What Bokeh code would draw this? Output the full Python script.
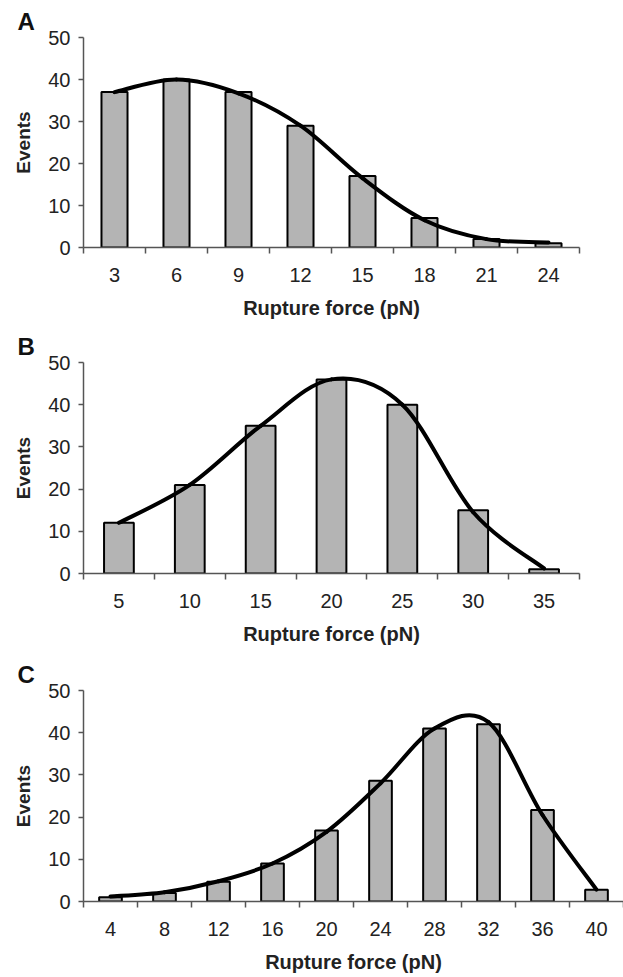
from bokeh.plotting import figure
from bokeh.layouts import column
from bokeh.models import Range1d, FixedTicker
from bokeh.embed import file_html
from bokeh.resources import INLINE

# ---- data ----
a_forces = ["3", "6", "9", "12", "15", "18", "21", "24"]
a_events = [37, 40, 37, 29, 17, 7, 2, 1]
a_fit = [37, 40, 36.7, 29, 16.5, 6.5, 2, 1.2]

b_forces = ["5", "10", "15", "20", "25", "30", "35"]
b_events = [12, 21, 35, 46, 40, 15, 1]
b_fit = [12, 21, 35, 46, 40, 14.5, 1.2]

c_forces = ["4", "8", "12", "16", "20", "24", "28", "32", "36", "40"]
c_events = [1, 2, 4.7, 9, 16.8, 28.6, 41, 42, 21.7, 2.8]
c_fit = [1.2, 2.2, 4.8, 9, 16.5, 28, 41, 42.5, 20.5, 2.8]

y_ticks = [0, 10, 20, 30, 40, 50]

FONT = "Liberation Sans"
TEXT = "#222222"
AXIS = "#555555"


def panel(letter, forces, events, fit, frame_w, frame_h, b_top, b_bottom, b_right):
    n = len(forces)
    p = figure(frame_width=frame_w, frame_height=frame_h,
               min_border_left=83, min_border_right=b_right,
               min_border_top=b_top, min_border_bottom=b_bottom,
               x_range=Range1d(-0.5, n - 0.5), y_range=Range1d(0, 50),
               output_backend="svg", toolbar_location=None,
               background_fill_color="white", border_fill_color="white")
    p.outline_line_color = None
    p.grid.visible = False

    # panel letter as a left-aligned title pushed into the left border
    p.title.text = letter
    p.title.align = "left"
    p.title.offset = -66
    p.title.standoff = 6
    p.title.text_font = FONT
    p.title.text_font_size = "24px"
    p.title.text_font_style = "bold"
    p.title.text_color = "#111111"

    xs = list(range(n))
    p.vbar(x=xs, top=events, bottom=0, width=0.42,
           fill_color="#b4b4b4", line_color="black", line_width=2)

    # smoothed line through the fit knots (Bezier segments, Excel-style)
    x0, y0, x1, y1, cx0, cy0, cx1, cy1 = [], [], [], [], [], [], [], []
    for i in range(n - 1):
        xm1, ym1 = (i - 1, fit[i - 1]) if i > 0 else (i, fit[i])
        xp2, yp2 = (i + 2, fit[i + 2]) if i + 2 < n else (i + 1, fit[i + 1])
        x0.append(i); y0.append(fit[i])
        x1.append(i + 1); y1.append(fit[i + 1])
        cx0.append(i + (i + 1 - xm1) / 6.0); cy0.append(fit[i] + (fit[i + 1] - ym1) / 6.0)
        cx1.append(i + 1 - (xp2 - i) / 6.0); cy1.append(fit[i + 1] - (yp2 - fit[i]) / 6.0)
    p.bezier(x0=x0, y0=y0, x1=x1, y1=y1, cx0=cx0, cy0=cy0, cx1=cx1, cy1=cy1,
             line_color="black", line_width=4, line_cap="round")

    # x axis
    xa = p.xaxis[0]
    xa.ticker = FixedTicker(ticks=xs, minor_ticks=[i - 0.5 for i in range(n + 1)])
    xa.major_label_overrides = {i: f for i, f in enumerate(forces)}
    xa.major_tick_line_color = None
    xa.major_tick_out = 0
    xa.major_tick_in = 0
    xa.minor_tick_in = 0
    xa.minor_tick_out = 6
    xa.minor_tick_line_color = AXIS
    xa.minor_tick_line_width = 1.5
    xa.axis_line_color = AXIS
    xa.axis_line_width = 1.5
    xa.major_label_text_font = FONT
    xa.major_label_text_font_size = "20px"
    xa.major_label_text_color = TEXT
    xa.major_label_standoff = 14
    xa.axis_label = "Rupture force (pN)"
    xa.axis_label_text_font = FONT
    xa.axis_label_text_font_size = "20px"
    xa.axis_label_text_font_style = "bold"
    xa.axis_label_text_color = TEXT
    xa.axis_label_standoff = 12

    # y axis
    ya = p.yaxis[0]
    ya.ticker = FixedTicker(ticks=y_ticks)
    ya.minor_tick_line_color = None
    ya.major_tick_in = 0
    ya.major_tick_out = 5
    ya.major_tick_line_color = AXIS
    ya.major_tick_line_width = 1.5
    ya.axis_line_color = AXIS
    ya.axis_line_width = 1.5
    ya.major_label_text_font = FONT
    ya.major_label_text_font_size = "20px"
    ya.major_label_text_color = TEXT
    ya.major_label_standoff = 8
    ya.axis_label = "Events"
    ya.axis_label_text_font = FONT
    ya.axis_label_text_font_size = "19px"
    ya.axis_label_text_font_style = "bold"
    ya.axis_label_text_color = TEXT
    ya.axis_label_standoff = 11
    return p


pa = panel("A", a_forces, a_events, a_fit, 496, 210, 37, 74, 44)
pb = panel("B", b_forces, b_events, b_fit, 496, 211, 41, 74, 44)
pc = panel("C", c_forces, c_events, c_fit, 540, 211, 43, 74, 0)

layout = column(pa, pb, pc, spacing=0)
open("out.html", "w").write(file_html(layout, INLINE))
